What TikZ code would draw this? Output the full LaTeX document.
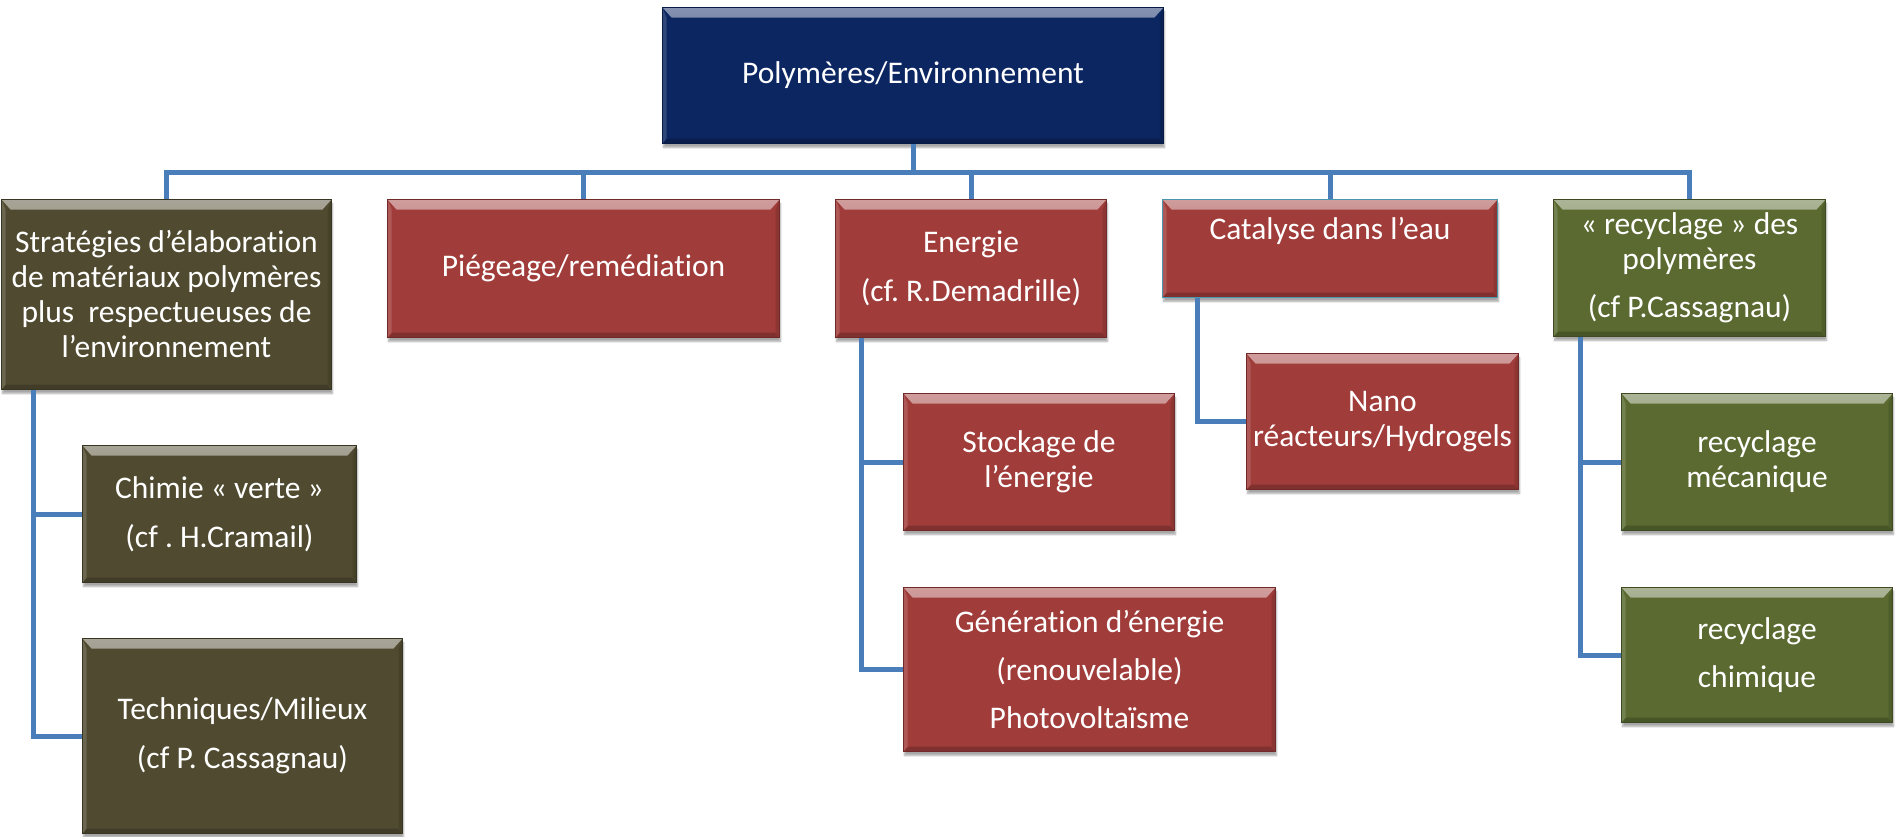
\documentclass[tikz,border=0pt]{standalone}
\usepackage{fontspec}
\usetikzlibrary{calc,shadows.blur}
\newfontfamily\cf[Ligatures={NoCommon,NoContextual}]{Carlito}
\newcommand\boxfont{\cf\frenchspacing\fontsize{31.5}{35}\selectfont}
\definecolor{navy}{RGB}{12,38,98}
\definecolor{brick}{RGB}{160,60,58}
\definecolor{olivebox}{RGB}{80,75,48}
\definecolor{greenbox}{RGB}{90,106,48}
\definecolor{conncol}{RGB}{74,126,187}
\definecolor{tealb}{RGB}{75,150,175}
\tikzset{
  bx/.style={rectangle, anchor=north west, inner sep=0pt, fill=#1,
    draw=#1!70!black, line width=1pt, text=white, font=\boxfont, align=center,
    blur shadow={shadow xshift=1pt, shadow yshift=-4pt, shadow blur steps=6, shadow opacity=35},
    path picture={
      \fill[top color=#1!50!white, bottom color=#1]
        (path picture bounding box.north west) -- (path picture bounding box.north east)
        -- ([xshift=-9pt,yshift=-10pt]path picture bounding box.north east)
        -- ([xshift=9pt,yshift=-10pt]path picture bounding box.north west) -- cycle;
      \fill[#1!80!black]
        (path picture bounding box.south west) -- (path picture bounding box.south east)
        -- ([xshift=-5pt,yshift=5pt]path picture bounding box.south east)
        -- ([xshift=5pt,yshift=5pt]path picture bounding box.south west) -- cycle;
      \fill[#1!88!black]
        (path picture bounding box.north east) -- (path picture bounding box.south east)
        -- ([xshift=-4pt,yshift=5pt]path picture bounding box.south east)
        -- ([xshift=-4pt,yshift=-10pt]path picture bounding box.north east) -- cycle;
      \fill[#1!85!white]
        (path picture bounding box.north west) -- (path picture bounding box.south west)
        -- ([xshift=4pt,yshift=5pt]path picture bounding box.south west)
        -- ([xshift=4pt,yshift=-10pt]path picture bounding box.north west) -- cycle;
    }},
  conn/.style={draw=conncol, line width=5pt}
}
\begin{document}
\begin{tikzpicture}[x=1pt,y=-1pt]
\useasboundingbox (0,0) rectangle (1901,836);
% level 0
\node[bx=navy, minimum width=501pt, minimum height=136pt] (top) at (662,7) {Polymères/Environnement};
% level 1
\node[bx=olivebox, minimum width=330pt, minimum height=190pt] (A) at (1,199)
  {Stratégies d’élaboration\\de matériaux polymères\\plus\ \ respectueuses de\\l’environnement};
\node[bx=brick, minimum width=392pt, minimum height=138pt] (B) at (387,199) {Piégeage/remédiation};
\node[bx=brick, minimum width=271pt, minimum height=138pt] (C) at (835,199) {Energie\\[14pt](cf. R.Demadrille)};
\node[bx=brick, draw=tealb, minimum width=335pt, minimum height=98pt] (D) at (1162,199)
  {\raisebox{18pt}[\height][\depth]{Catalyse dans l’eau}};
\node[bx=greenbox, minimum width=272pt, minimum height=137pt] (E) at (1553,199)
  {« recyclage » des\\polymères\\[13pt](cf P.Cassagnau)};
% level 2
\node[bx=olivebox, minimum width=274pt, minimum height=137pt] (A1) at (82,445) {Chimie « verte »\\[14pt](cf . H.Cramail)};
\node[bx=olivebox, minimum width=320pt, minimum height=195pt] (A2) at (82,638) {Techniques/Milieux\\[14pt](cf P. Cassagnau)};
\node[bx=brick, minimum width=271pt, minimum height=137pt] (C1) at (903,393) {Stockage de\\l’énergie};
\node[bx=brick, minimum width=372pt, minimum height=164pt] (C2) at (903,587) {Génération d’énergie\\[13pt](renouvelable)\\[13pt]Photovoltaïsme};
\node[bx=brick, minimum width=272pt, minimum height=136pt] (D1) at (1246,353) {Nano\\réacteurs/Hydrogels};
\node[bx=greenbox, minimum width=271pt, minimum height=137pt] (E1) at (1621,393) {recyclage\\mécanique};
\node[bx=greenbox, minimum width=271pt, minimum height=135pt] (E2) at (1621,587) {recyclage\\[13pt]chimique};
% connectors
\coordinate (bus) at (0,172);
\foreach \n in {A,B,C,D,E}{
  \draw[conn] (top.south) |- (bus -| \n.north) -- (\n.north);
}
\draw[conn] ($(A.south west)+(32,0)$) |- (A1.west);
\draw[conn] ($(A.south west)+(32,0)$) |- (A2.west);
\draw[conn] ($(C.south west)+(26,0)$) |- (C1.west);
\draw[conn] ($(C.south west)+(26,0)$) |- (C2.west);
\draw[conn] ($(D.south west)+(35,0)$) |- (D1.west);
\draw[conn] ($(E.south west)+(27,0)$) |- (E1.west);
\draw[conn] ($(E.south west)+(27,0)$) |- (E2.west);
\end{tikzpicture}
\end{document}
